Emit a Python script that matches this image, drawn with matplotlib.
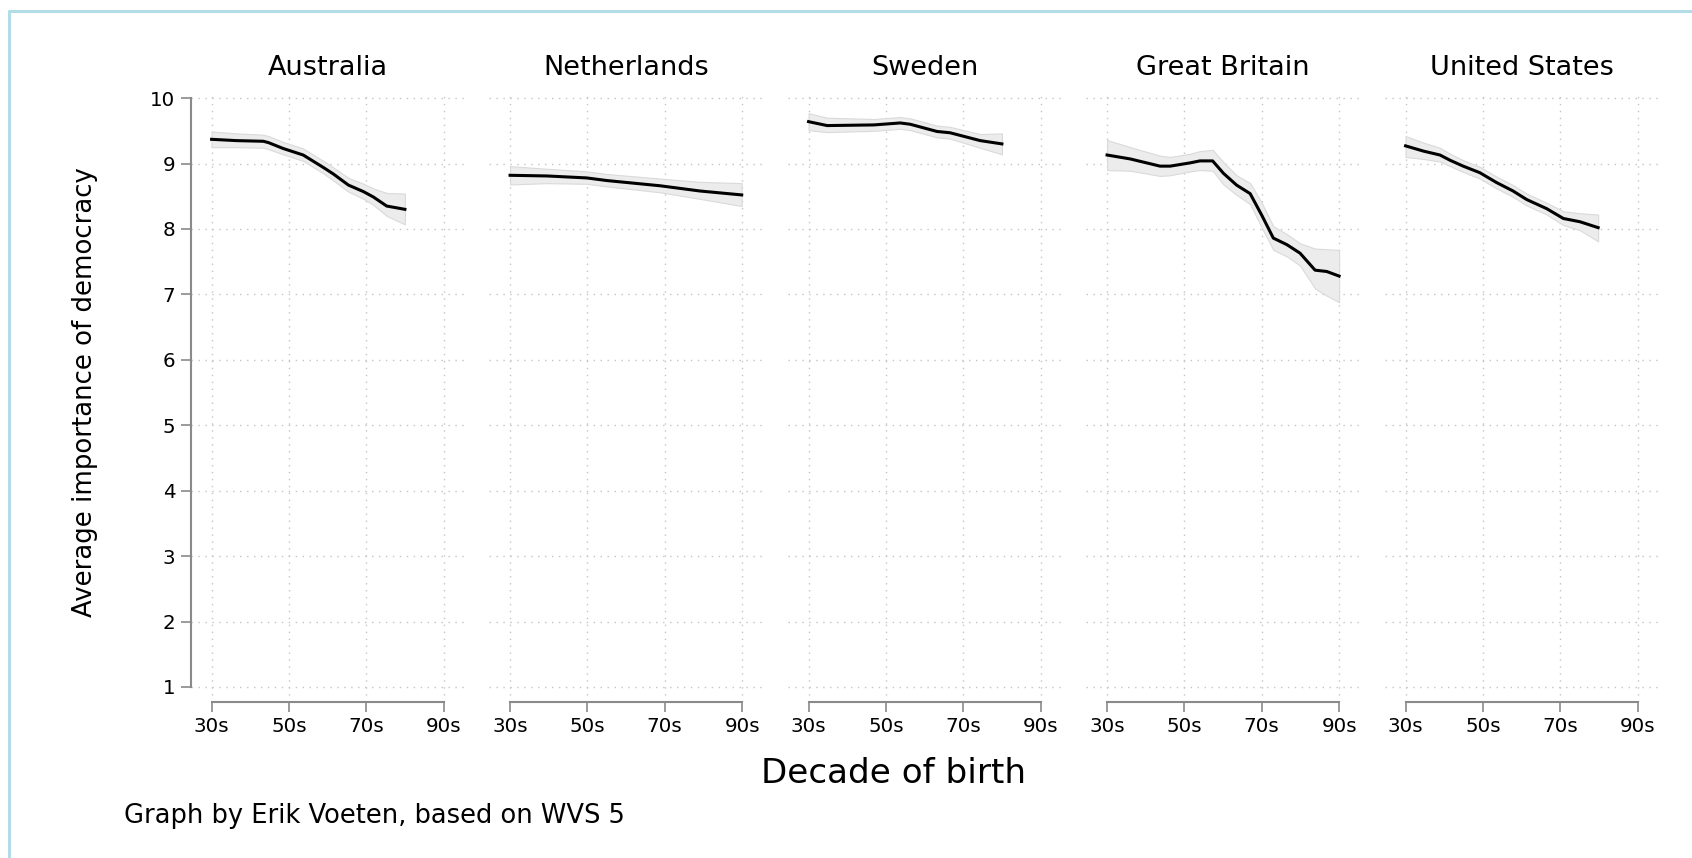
import matplotlib
matplotlib.use("Agg")
import matplotlib.pyplot as plt
from matplotlib.lines import Line2D

plt.rcParams["font.family"] = ["DejaVu Sans"]

countries = ["Australia", "Netherlands", "Sweden", "Great Britain", "United States"]

# decade of birth (30 = 1930s) and smoothed average importance with band
aus_x = [30, 36.5, 43.4, 44.7, 48.5, 53.7, 58.9, 61.5, 65.4, 69.3, 71.8, 75.3, 80.0]
aus_y = [9.37, 9.35, 9.34, 9.32, 9.23, 9.13, 8.94, 8.84, 8.67, 8.57, 8.49, 8.35, 8.30]
aus_hi = [9.49, 9.46, 9.44, 9.42, 9.33, 9.23, 9.04, 8.94, 8.78, 8.69, 8.62, 8.55, 8.54]
aus_lo = [9.25, 9.25, 9.24, 9.22, 9.14, 9.04, 8.85, 8.74, 8.57, 8.46, 8.37, 8.20, 8.07]

nld_x = [30, 39.5, 49.8, 55.0, 68.8, 79.1, 89.9]
nld_y = [8.82, 8.81, 8.78, 8.74, 8.66, 8.58, 8.52]
nld_hi = [8.96, 8.92, 8.88, 8.84, 8.77, 8.72, 8.70]
nld_lo = [8.68, 8.70, 8.69, 8.65, 8.56, 8.46, 8.35]

swe_x = [30, 34.8, 46.9, 53.7, 56.3, 63.2, 66.6, 74.4, 80.0]
swe_y = [9.64, 9.58, 9.59, 9.62, 9.60, 9.49, 9.47, 9.35, 9.30]
swe_hi = [9.77, 9.70, 9.68, 9.71, 9.69, 9.58, 9.56, 9.45, 9.46]
swe_lo = [9.51, 9.48, 9.50, 9.53, 9.51, 9.40, 9.38, 9.24, 9.14]

gbr_x = [30, 36.0, 43.7, 46.3, 51.5, 54.0, 57.3, 60.1, 63.5, 67.0, 70.0, 73.0, 76.5, 79.9, 83.8, 86.8, 90]
gbr_y = [9.13, 9.07, 8.96, 8.96, 9.01, 9.04, 9.04, 8.85, 8.67, 8.54, 8.21, 7.86, 7.76, 7.63, 7.37, 7.35, 7.28]
gbr_hi = [9.36, 9.25, 9.12, 9.10, 9.15, 9.19, 9.21, 9.02, 8.82, 8.70, 8.40, 8.04, 7.92, 7.78, 7.70, 7.69, 7.68]
gbr_lo = [8.90, 8.89, 8.81, 8.82, 8.88, 8.90, 8.89, 8.68, 8.52, 8.38, 8.02, 7.68, 7.58, 7.44, 7.09, 6.98, 6.88]

usa_x = [30, 34.6, 38.9, 41.5, 44.9, 49.2, 53.5, 57.8, 61.3, 66.5, 70.8, 75.1, 79.8]
usa_y = [9.27, 9.19, 9.13, 9.05, 8.96, 8.86, 8.71, 8.58, 8.45, 8.31, 8.16, 8.11, 8.02]
usa_hi = [9.42, 9.32, 9.24, 9.15, 9.05, 8.95, 8.80, 8.67, 8.54, 8.40, 8.27, 8.24, 8.22]
usa_lo = [9.10, 9.07, 9.03, 8.96, 8.87, 8.77, 8.62, 8.49, 8.36, 8.22, 8.06, 7.98, 7.81]

series = [
    (aus_x, aus_y, aus_lo, aus_hi),
    (nld_x, nld_y, nld_lo, nld_hi),
    (swe_x, swe_y, swe_lo, swe_hi),
    (gbr_x, gbr_y, gbr_lo, gbr_hi),
    (usa_x, usa_y, usa_lo, usa_hi),
]

decade_ticks = [30, 50, 70, 90]
decade_labels = ["30s", "50s", "70s", "90s"]
y_ticks = list(range(1, 11))

axis_grey = "#8a8a8a"

fig = plt.figure(figsize=(16.92, 8.58), dpi=100)

left0, step, width = 0.1127, 0.17642, 0.1618
bottom, height = 0.1818, 0.7115

for i, (name, (x, y, lo, hi)) in enumerate(zip(countries, series)):
    ax = fig.add_axes([left0 + i * step, bottom, width, height])
    ax.fill_between(x, lo, hi, color="#ececec", edgecolor="#dadada", linewidth=0.8, zorder=2)
    ax.plot(x, y, color="black", linewidth=2.2, zorder=3)

    ax.set_xlim(24.6, 95.4)
    ax.set_ylim(0.77, 10.1)
    ax.set_xticks(decade_ticks)
    ax.set_xticklabels(decade_labels)
    ax.set_yticks(y_ticks)
    ax.grid(True, linestyle=(0, (1, 4)), color="#c4c4c4", linewidth=1.0, zorder=1)

    for side in ["top", "right"]:
        ax.spines[side].set_visible(False)
    ax.spines["bottom"].set_bounds(30, 90)
    ax.spines["bottom"].set_color(axis_grey)
    ax.spines["bottom"].set_linewidth(1.5)
    ax.tick_params(axis="x", colors=axis_grey, length=7, width=1.2, pad=4,
                   labelsize=14.3, labelcolor="black")

    if i == 0:
        ax.spines["left"].set_bounds(1, 10)
        ax.spines["left"].set_color(axis_grey)
        ax.spines["left"].set_linewidth(1.5)
        ax.tick_params(axis="y", colors=axis_grey, length=7, width=1.2, pad=4,
                       labelsize=14.3, labelcolor="black")
    else:
        ax.spines["left"].set_visible(False)
        ax.tick_params(axis="y", left=False, labelleft=False)

    ax.set_title(name, fontsize=19.5, pad=12)

fig.text(0.050, 0.543, "Average importance of democracy", rotation=90,
         ha="center", va="center", fontsize=18.7)
fig.text(0.528, 0.0871, "Decade of birth", ha="center", va="baseline", fontsize=24.6)
fig.text(0.0733, 0.0408, "Graph by Erik Voeten, based on WVS 5", ha="left",
         va="baseline", fontsize=18.5)

# thin frame along top and left edge
fig.add_artist(Line2D([9 / 1692, 9 / 1692, 1], [0, 1 - 11 / 858, 1 - 11 / 858],
                      transform=fig.transFigure, color="#b3dde6", linewidth=2.2))

fig.savefig("out.png", dpi=100)
